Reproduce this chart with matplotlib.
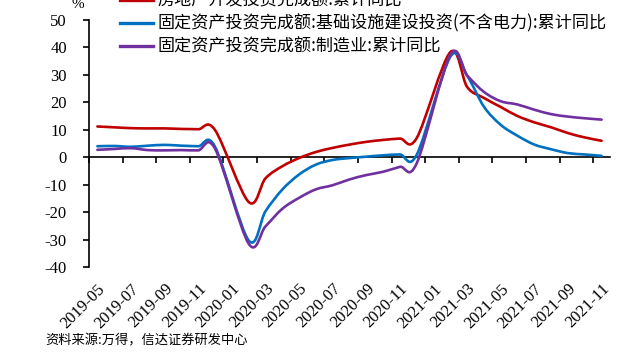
import numpy as np
import matplotlib
matplotlib.use("Agg")
import matplotlib.pyplot as plt
from matplotlib.path import Path
from matplotlib.patches import PathPatch
from matplotlib.lines import Line2D

plt.rcParams['axes.unicode_minus'] = False

nan = np.nan
months = ["2019-05", "2019-06", "2019-07", "2019-08", "2019-09", "2019-10", "2019-11", "2019-12",
          "2020-01", "2020-02", "2020-03", "2020-04", "2020-05", "2020-06", "2020-07", "2020-08",
          "2020-09", "2020-10", "2020-11", "2020-12", "2021-01", "2021-02", "2021-03", "2021-04",
          "2021-05", "2021-06", "2021-07", "2021-08", "2021-09", "2021-10", "2021-11"]
real_estate = [11.2, 10.9, 10.6, 10.5, 10.5, 10.3, 10.2, 9.9, nan,
               -16.3, -7.7, -3.3, -0.3, 1.9, 3.4, 4.6, 5.6, 6.3, 6.8, 7.0, nan,
               38.3, 25.6, 21.6, 18.3, 15.0, 12.7, 10.9, 8.8, 7.2, 6.0]
infra = [4.0, 4.1, 3.8, 4.2, 4.5, 4.2, 4.0, 3.8, nan,
         -30.3, -19.7, -11.8, -6.3, -2.7, -1.0, -0.3, 0.2, 0.7, 1.0, 0.9, nan,
         36.6, 29.7, 18.4, 11.8, 7.8, 4.6, 2.9, 1.5, 1.0, 0.5]
manuf = [2.7, 3.0, 3.3, 2.6, 2.5, 2.6, 2.5, 3.1, nan,
         -31.5, -25.2, -18.8, -14.8, -11.7, -10.2, -8.1, -6.5, -5.3, -3.5, -2.2, nan,
         37.3, 29.8, 23.8, 20.4, 19.2, 17.3, 15.7, 14.8, 14.2, 13.7]
labels = ["房地产开发投资完成额:累计同比",
          "固定资产投资完成额:基础设施建设投资(不含电力):累计同比",
          "固定资产投资完成额:制造业:累计同比"]
colors = ["#C00000", "#0070C0", "#7030A0"]
yticks = list(range(-40, 51, 10))

W, H = 631, 362
fig = plt.figure(figsize=(W / 100, H / 100), dpi=100)
ax = fig.add_axes([89 / W, 1 - 267 / H, (610 - 89) / W, (267 - 20) / H])


def smooth_path(xs, ys):
    pts = np.array([(x, y) for x, y in zip(xs, ys) if not np.isnan(y)], dtype=float)
    n = len(pts)
    verts = [pts[0]]
    codes = [Path.MOVETO]
    for i in range(n - 1):
        p0 = pts[i]
        p1 = pts[i + 1]
        pm = pts[i - 1] if i > 0 else p0
        p2 = pts[i + 2] if i + 2 < n else p1
        c1 = p0 + (p1 - pm) / 6.0
        c2 = p1 - (p2 - p0) / 6.0
        verts += [c1, c2, p1]
        codes += [Path.CURVE4] * 3
    return Path(verts, codes)


x = np.arange(len(months))
for series, c in zip([real_estate, infra, manuf], colors):
    patch = PathPatch(smooth_path(x, series), fill=False, edgecolor=c, lw=1.9,
                      capstyle='round', joinstyle='round', zorder=3)
    ax.add_patch(patch)

ax.set_xlim(-0.5, len(months) - 0.5)
ax.set_ylim(-40, 50)
ax.spines['top'].set_visible(False)
ax.spines['right'].set_visible(False)
ax.spines['bottom'].set_position(('data', 0))
for s in ['left', 'bottom']:
    ax.spines[s].set_linewidth(1.2)
    ax.spines[s].set_color('black')
ax.set_xticks(np.arange(-0.5, len(months) - 1, 2))
ax.set_xticklabels([])
ax.tick_params(axis='x', direction='out', length=4, width=1.2, color='black')
ax.set_yticks(yticks)
ax.set_yticklabels([str(v) for v in yticks], family='Liberation Serif', fontsize=12)
ax.tick_params(axis='y', direction='out', length=4, width=1.2, pad=12)

sec = ax.secondary_xaxis('bottom')
sec.set_xticks(x[::2])
sec.set_xticklabels(months[::2], rotation=45, ha='right', rotation_mode='anchor',
                    family='Liberation Serif', fontsize=12)
sec.tick_params(axis='x', length=0, pad=10)
sec.spines['bottom'].set_visible(False)

handles = [Line2D([], [], color=c, lw=2.4) for c in colors]
fig.legend(handles, labels, loc='upper left', bbox_to_anchor=(120 / W, 1 + 8.5 / H),
           frameon=False, prop={'family': ['Noto Sans CJK SC', 'DejaVu Sans'], 'size': 12.3},
           handlelength=1.93, handletextpad=0.25, labelspacing=0.29, borderpad=0,
           borderaxespad=0)

fig.text(78 / W, 1 - 5 / H, "%", ha='center', va='center', family='Liberation Serif', fontsize=11)
fig.text(45 / W, 1 - 341 / H, "资料来源:万得，信达证券研发中心", ha='left', va='center',
         family=['Noto Sans CJK SC', 'DejaVu Sans'], fontsize=9.5)

fig.savefig("out.png", dpi=100)
